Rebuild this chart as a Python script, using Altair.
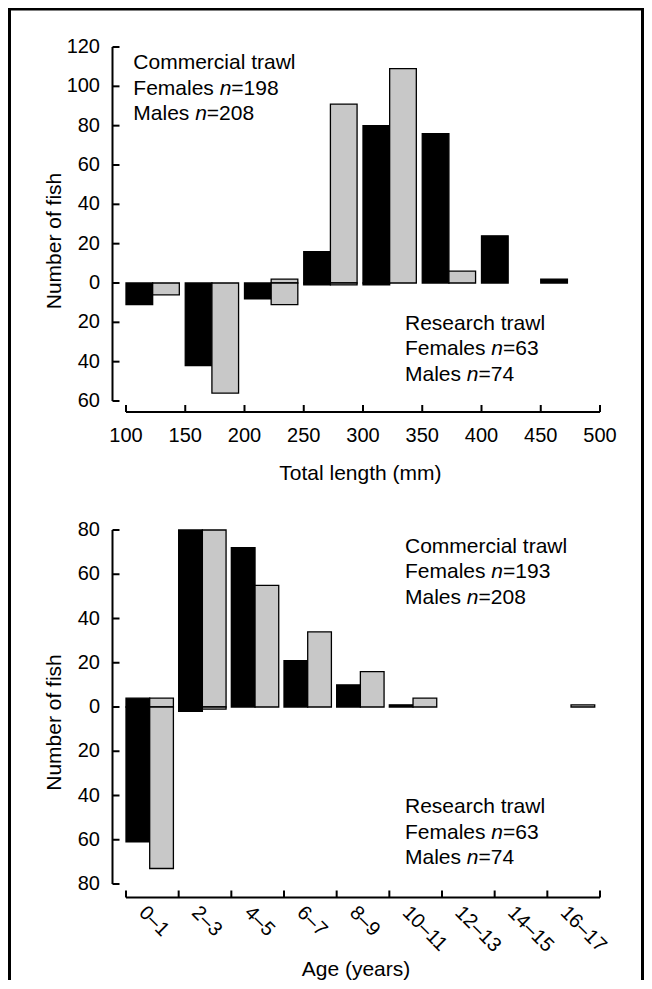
import altair as alt
import pandas as pd

FONT = "Liberation Sans"
W = 474
FS_TICK = 20
FS_TEXT = 21

# ---------------- data: total length ----------------
len_bins = [100, 150, 200, 250, 300, 350, 400, 450]
len_comm_f = [0, 0, 0, 16, 80, 76, 24, 2]
len_comm_m = [0, 0, 2, 91, 109, 6, 0, 0]
len_res_f = [11, 42, 8, 1, 1, 0, 0, 0]
len_res_m = [6, 56, 11, 1, 0, 0, 0, 0]
len_xticks = [100, 150, 200, 250, 300, 350, 400, 450, 500]
len_yticks = [-60, -40, -20, 0, 20, 40, 60, 80, 100, 120]
len_n_comm = [198, 208]
len_n_res = [63, 74]

# ---------------- data: age ----------------
age_labels = ["0\u20131", "2\u20133", "4\u20135", "6\u20137", "8\u20139",
              "10\u201311", "12\u201313", "14\u201315", "16\u201317"]
age_comm_f = [4, 80, 72, 21, 10, 1, 0, 0, 0]
age_comm_m = [4, 80, 55, 34, 16, 4, 0, 0, 1]
age_res_f = [61, 2, 0, 0, 0, 0, 0, 0, 0]
age_res_m = [73, 1, 0, 0, 0, 0, 0, 0, 0]
age_yticks = [-80, -60, -40, -20, 0, 20, 40, 60, 80]
age_n_comm = [193, 208]
age_n_res = [63, 74]

ARIAL = {'F': 611, 'e': 556, 'm': 833, 'a': 556, 'l': 222, 's': 500, ' ': 278,
         'M': 833, 'n': 556}


def tw(s, size):
    return sum(ARIAL[c] for c in s) / 1000.0 * size


def bar_table(starts, fpos, mpos, fneg, mneg, split, end):
    rows = []
    for s, a, b in zip(starts, fpos, fneg):
        if a:
            rows.append(dict(x0=s, x1=s + split, v=a, zero=0, sex="F"))
        if b:
            rows.append(dict(x0=s, x1=s + split, v=-b, zero=0, sex="F"))
    for s, a, b in zip(starts, mpos, mneg):
        if a:
            rows.append(dict(x0=s + split, x1=s + end, v=a, zero=0, sex="M"))
        if b:
            rows.append(dict(x0=s + split, x1=s + end, v=-b, zero=0, sex="M"))
    return pd.DataFrame(rows)


def annot_items(x0, y0, head, n_f, n_m):
    lh = 25.4
    items = [(head, x0, y0, "normal")]
    for k, (lab, n) in enumerate([("Females", n_f), ("Males", n_m)]):
        y = y0 + lh * (k + 1)
        w1 = tw(lab + " ", FS_TEXT)
        items.append((lab, x0, y, "normal"))
        items.append(("n", x0 + w1, y, "italic"))
        items.append(("=" + str(n), x0 + w1 + tw("n", FS_TEXT), y, "normal"))
    return items


def text_mark(t, px, py, style="normal", align="left", baseline="alphabetic",
              angle=0):
    return alt.Chart(pd.DataFrame({"t": [t]})).mark_text(
        font=FONT, fontSize=FS_TEXT, fontStyle=style, color="black",
        align=align, baseline=baseline, angle=angle).encode(
        text="t:N", x=alt.value(px), y=alt.value(py))


def block(x1, x2, y1, y2):
    # solid black strip (figure frame), drawn without stroke
    return alt.Chart(pd.DataFrame({"a": [0]})).mark_rect(
        color="black", strokeWidth=0).encode(
        x=alt.value(x1), x2=alt.value(x2), y=alt.value(y1), y2=alt.value(y2))


def panel(bars, xs, ys, H, xticks, xlabels, yticks, xoff, texts, ytitle_y,
          xtitle, xtitle_pos, rotated=False, frame=False):
    color = alt.Color("sex:N", scale=alt.Scale(domain=["F", "M"],
                                               range=["#000000", "#c8c8c8"]),
                      legend=None)
    one = pd.DataFrame({"a": [0]})
    ax = dict(color="black", strokeWidth=2)
    layers = []
    layers.append(alt.Chart(bars).mark_rect(stroke="black", strokeWidth=1.3).encode(
        x=alt.X("x0:Q", scale=xs, axis=None), x2="x1:Q",
        y=alt.Y("v:Q", scale=ys, axis=None), y2="zero:Q", color=color))
    # y axis: line, inward ticks, labels
    layers.append(alt.Chart(one).mark_rule(**ax).encode(
        x=alt.value(-13.5), y=alt.value(0), y2=alt.value(H)))
    ydf = pd.DataFrame({"v": yticks, "lab": [str(abs(v)) for v in yticks]})
    layers.append(alt.Chart(ydf).mark_rule(**ax).encode(
        y=alt.Y("v:Q", scale=ys, axis=None), x=alt.value(-13.5), x2=alt.value(-6.5)))
    layers.append(alt.Chart(ydf).mark_text(
        font=FONT, fontSize=FS_TICK, color="black", align="right",
        baseline="middle").encode(
        y=alt.Y("v:Q", scale=ys, axis=None), x=alt.value(-26), text="lab:N"))
    # x axis: line, inward ticks, labels
    layers.append(alt.Chart(pd.DataFrame({"x0": [xticks[0]], "x1": [xticks[-1]]}))
                  .mark_rule(**ax).encode(
        x=alt.X("x0:Q", scale=xs, axis=None), x2="x1:Q", y=alt.value(H + xoff)))
    layers.append(alt.Chart(pd.DataFrame({"x0": xticks})).mark_rule(**ax).encode(
        x=alt.X("x0:Q", scale=xs, axis=None), y=alt.value(H + xoff),
        y2=alt.value(H + xoff - 7)))
    xl = pd.DataFrame(xlabels, columns=["x0", "lab"])
    if rotated:
        layers.append(alt.Chart(xl).mark_text(
            font=FONT, fontSize=FS_TICK, color="black", align="left",
            baseline="middle", angle=45).encode(
            x=alt.X("x0:Q", scale=xs, axis=None), y=alt.value(H + xoff + 12),
            text="lab:N"))
    else:
        layers.append(alt.Chart(xl).mark_text(
            font=FONT, fontSize=FS_TICK, color="black", align="center",
            baseline="alphabetic").encode(
            x=alt.X("x0:Q", scale=xs, axis=None), y=alt.value(H + xoff + 29.5),
            text="lab:N"))
    for t, px, py, st in texts:
        layers.append(text_mark(t, px, py, st))
    layers.append(text_mark("Number of fish", -71, ytitle_y, align="center",
                            baseline="middle", angle=270))
    layers.append(text_mark(xtitle, xtitle_pos[0], xtitle_pos[1], align="center"))
    if frame:
        layers.append(block(-118, 518, -39, -36.5))   # top
        layers.append(block(-118, -115, -39, 933))    # left
        layers.append(block(515, 518, -39, 933))      # right
    return alt.layer(*layers).properties(width=W, height=H)


# ---- top panel ----
H1 = 354
xs1 = alt.Scale(domain=[100, 500], nice=False, zero=False)
ys1 = alt.Scale(domain=[-60, 120], nice=False, zero=False)
bars1 = bar_table(len_bins, len_comm_f, len_comm_m, len_res_f, len_res_m, 22.5, 45)
texts1 = (annot_items(7.3, 22.3, "Commercial trawl", *len_n_comm)
          + annot_items(279, 283, "Research trawl", *len_n_res))
top = panel(bars1, xs1, ys1, H1, len_xticks,
            [(v, str(v)) for v in len_xticks], len_yticks, 11,
            texts1, 194, "Total length (mm)", (234.4, 433), frame=True)

# ---- bottom panel ----
H2 = 354
xs2 = alt.Scale(domain=[0, 9], nice=False, zero=False)
ys2 = alt.Scale(domain=[-80, 80], nice=False, zero=False)
bars2 = bar_table(list(range(len(age_labels))), age_comm_f, age_comm_m,
                  age_res_f, age_res_m, 0.45, 0.9)
texts2 = (annot_items(279, 22.7, "Commercial trawl", *age_n_comm)
          + annot_items(279, 283.3, "Research trawl", *age_n_res))
# label anchors sit a little left of each interval centre
bottom = panel(bars2, xs2, ys2, H2, list(range(10)),
               [(i + 0.31, lab) for i, lab in enumerate(age_labels)], age_yticks,
               13.5, texts2, 192.5, "Age (years)", (230, 446), rotated=True)

chart = alt.vconcat(top, bottom, spacing=129, bounds="flush").properties(
    padding=0, background="white"
).configure_view(stroke=None)

chart.save("out.html", embed_options={"renderer": "svg", "actions": False})
